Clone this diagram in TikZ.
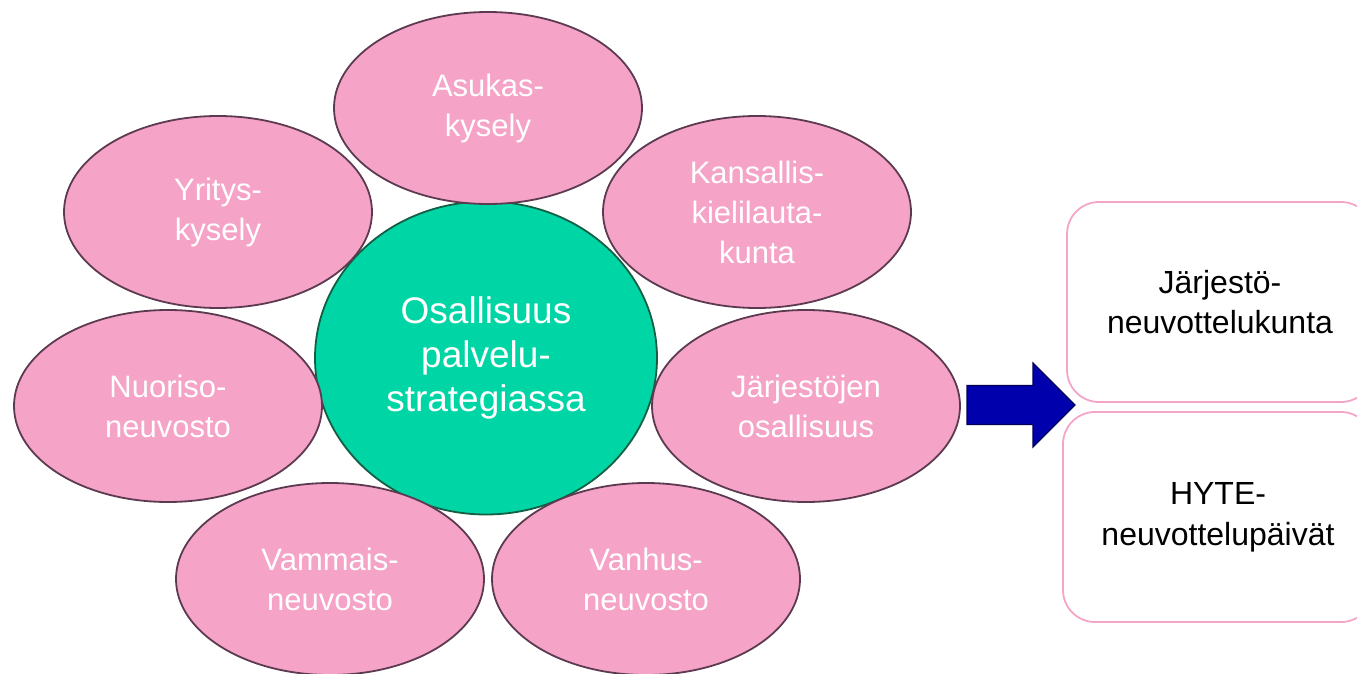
\documentclass[tikz,border=0pt]{standalone}
\usepackage{fontspec}
\setmainfont{Liberation Sans}
\usetikzlibrary{shapes.geometric}
\definecolor{petalfill}{HTML}{F5A3C7}
\definecolor{petalline}{HTML}{5C3A50}
\definecolor{hubfill}{HTML}{00D5A5}
\definecolor{hubline}{HTML}{145E44}
\definecolor{arrowfill}{HTML}{0000AC}
\definecolor{arrowline}{HTML}{000055}
\definecolor{boxline}{HTML}{F4A6C8}
\tikzset{
  petal/.style={ellipse, draw=petalline, fill=petalfill, line width=1.8pt,
    minimum width=308pt, minimum height=192pt, inner sep=0pt, align=center,
    text=white, font=\fontsize{31}{40}\selectfont},
  hub/.style={ellipse, draw=hubline, fill=hubfill, line width=1.8pt,
    minimum width=342pt, minimum height=313pt, inner sep=0pt, align=center,
    text=white, font=\fontsize{37}{44}\selectfont},
  sidebox/.style={rectangle, rounded corners=32pt, draw=boxline, fill=white,
    line width=1.8pt, minimum width=306pt, minimum height=200pt, align=center,
    text=black, font=\fontsize{32}{40}\selectfont},
  blockarrow/.style={fill=arrowfill, draw=arrowline, line width=1.2pt}
}
\begin{document}
\begin{tikzpicture}[x=1pt,y=-1pt]
\useasboundingbox (0,0) rectangle (1357,674);
\clip (0,0) rectangle (1357,674);
\node[hub] (hub) at (486,358) {Osallisuus\\palvelu-\\strategiassa};
\node[petal] (asukas) at (488,108) {Asukas-\\kysely};
\node[petal] (yritys) at (218,212) {Yritys-\\kysely};
\node[petal] (kansallis) at (757,212) {Kansallis-\\kielilauta-\\kunta};
\node[petal] (nuoriso) at (168,406) {Nuoriso-\\neuvosto};
\node[petal] (jarjestojen) at (806,406) {Järjestöjen\\osallisuus};
\node[petal] (vammais) at (330,579) {Vammais-\\neuvosto};
\node[petal] (vanhus) at (646,579) {Vanhus-\\neuvosto};
\node[sidebox] (neuvottelukunta) at (1220,302) {Järjestö-\\neuvottelukunta};
\node[sidebox, minimum height=210pt, minimum width=310pt] (hyte) at (1218,517) {HYTE-\\[1pt]neuvottelupäivät};
\coordinate (arrowbase) at (967,405);
\draw[blockarrow] (arrowbase) ++(0,-19.5) -- ++(66,0) -- ++(0,-22.5) -- ++(42,42)
  -- ++(-42,42) -- ++(0,-22.5) -- ++(-66,0) -- cycle;
\end{tikzpicture}
\end{document}
